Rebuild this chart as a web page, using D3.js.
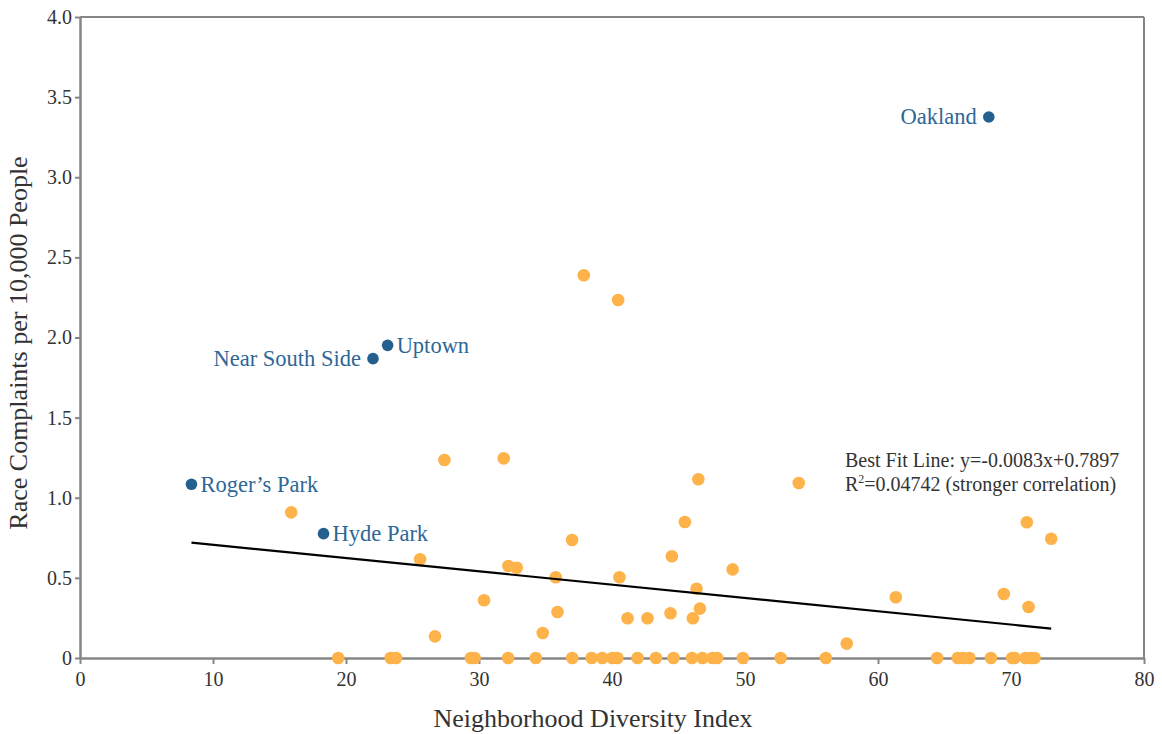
<!DOCTYPE html>
<html>
<head>
<meta charset="utf-8">
<script src="https://cdn.jsdelivr.net/npm/d3@7"></script>
<style>
  body { margin: 0; background: #fff; }
  svg { display: block; }
  text { font-family: "Liberation Serif", "DejaVu Serif", serif; }
</style>
</head>
<body>
<svg id="chart" width="1162" height="734"></svg>
<script>
// ---- Data ----
const xTicks = [0, 10, 20, 30, 40, 50, 60, 70, 80];
const yTicks = [0, 0.5, 1.0, 1.5, 2.0, 2.5, 3.0, 3.5, 4.0];

// Highlighted neighborhoods
const highlightNames = ["Oakland", "Uptown", "Near South Side", "Roger\u2019s Park", "Hyde Park"];
const highlightX = [68.33, 23.13, 22.03, 8.38, 18.31];
const highlightY = [3.376, 1.951, 1.868, 1.084, 0.776];
const highlightSide = ["left", "right", "left", "right", "right"];

// Other neighborhoods with complaints > 0
const otherX = [37.88, 40.46, 27.40, 31.86, 46.49, 54.04, 15.88, 45.48, 71.19, 37.00,
                73.02, 25.57, 44.50, 32.21, 32.84, 49.07, 35.77, 40.56, 46.36, 61.34,
                69.46, 30.38, 46.61, 71.32, 35.90, 44.40, 41.17, 42.67, 46.08, 34.79,
                26.69, 57.65];
const otherY = [2.388, 2.234, 1.236, 1.246, 1.115, 1.092, 0.909, 0.849, 0.847, 0.736,
                0.744, 0.616, 0.635, 0.574, 0.563, 0.553, 0.504, 0.504, 0.432, 0.379,
                0.399, 0.360, 0.308, 0.318, 0.287, 0.279, 0.248, 0.248, 0.248, 0.156,
                0.135, 0.090];

// Neighborhoods with zero complaints
const zeroX = [19.41, 23.36, 23.76, 29.39, 29.67, 32.19, 34.27, 37.01, 38.47, 39.27,
               40.02, 40.40, 41.92, 43.30, 44.63, 46.01, 46.80, 47.56, 47.90, 49.84,
               52.68, 56.08, 64.44, 66.00, 66.41, 66.87, 68.49, 70.09, 70.27, 71.09,
               71.50, 71.77];

// Best fit line
const fitSlope = -0.0083;
const fitIntercept = 0.7897;
const fitLabel1 = "Best Fit Line: y=-0.0083x+0.7897";
const fitLabel2 = "=0.04742 (stronger correlation)";

const xTitle = "Neighborhood Diversity Index";
const yTitle = "Race Complaints per 10,000 People";

// ---- Layout ----
const W = 1162, H = 734;
const margin = { top: 17, right: 18, bottom: 76, left: 80 };
const iw = W - margin.left - margin.right;
const ih = H - margin.top - margin.bottom;

const svg = d3.select("#chart");
const g = svg.append("g").attr("transform", `translate(${margin.left},${margin.top})`);

const x = d3.scaleLinear().domain([0, 80]).range([0, iw]);
const y = d3.scaleLinear().domain([0, 4]).range([ih, 0]);

const axisColor = "#868686";
const orange = "#fdb34a";
const blue = "#235f8f";
const labelBlue = "#2e6796";
const textColor = "#333";

// Frame (top and right)
g.append("line").attr("x1", 0).attr("x2", iw).attr("y1", 0).attr("y2", 0)
  .attr("stroke", axisColor).attr("stroke-width", 2);
g.append("line").attr("x1", iw).attr("x2", iw).attr("y1", 0).attr("y2", ih)
  .attr("stroke", axisColor).attr("stroke-width", 2);

// Axes
const xAxis = g.append("g").attr("transform", `translate(0,${ih})`)
  .call(d3.axisBottom(x).tickValues(xTicks).tickSize(6).tickSizeOuter(0).tickFormat(d3.format("d")));
const yAxis = g.append("g")
  .call(d3.axisLeft(y).tickValues(yTicks).tickSize(5).tickSizeOuter(0)
    .tickFormat(d => d === 0 ? "0" : d3.format(".1f")(d)));

[xAxis, yAxis].forEach(a => {
  a.select(".domain").attr("stroke", axisColor).attr("stroke-width", 2.5);
  a.selectAll(".tick line").attr("stroke", axisColor).attr("stroke-width", 2);
  a.selectAll(".tick text").attr("fill", textColor).style("font-size", "20px")
    .style("font-family", "'Liberation Serif', serif");
});
xAxis.selectAll(".tick text").attr("y", 14);
yAxis.selectAll(".tick text").attr("x", -8);

// Zero points
g.selectAll("circle.zero").data(zeroX).join("circle").attr("class", "zero")
  .attr("cx", d => x(d)).attr("cy", y(0)).attr("r", 6.3).attr("fill", orange);

// Other points
g.selectAll("circle.other").data(otherX.map((d, i) => [d, otherY[i]])).join("circle").attr("class", "other")
  .attr("cx", d => x(d[0])).attr("cy", d => y(d[1])).attr("r", 6.3).attr("fill", orange);

// Best fit line
const allX = highlightX.concat(otherX, zeroX);
const xMin = d3.min(allX), xMax = d3.max(allX);
const line = d3.line().x(d => x(d)).y(d => y(fitSlope * d + fitIntercept));
g.append("path").datum([xMin, xMax]).attr("d", line)
  .attr("stroke", "#000").attr("stroke-width", 2.2).attr("fill", "none");

// Highlighted points
const hl = highlightNames.map((n, i) => ({ name: n, x: highlightX[i], y: highlightY[i], side: highlightSide[i] }));
g.selectAll("circle.hl").data(hl).join("circle").attr("class", "hl")
  .attr("cx", d => x(d.x)).attr("cy", d => y(d.y)).attr("r", 5.8).attr("fill", blue);
g.selectAll("text.hl").data(hl).join("text").attr("class", "hl")
  .attr("x", d => x(d.x) + (d.side === "right" ? 9 : -12))
  .attr("y", d => y(d.y))
  .attr("dy", "0.33em")
  .attr("text-anchor", d => d.side === "right" ? "start" : "end")
  .attr("fill", labelBlue)
  .style("font-size", "22.5px")
  .text(d => d.name);

// Fit annotation
const annX = 845 - margin.left;
const ann = g.append("text").attr("x", annX).attr("y", 467 - margin.top).attr("fill", textColor)
  .style("font-size", "20px");
ann.append("tspan").attr("x", annX).attr("dy", 0).text(fitLabel1);
ann.append("tspan").attr("x", annX).attr("dy", 23.5).text("R");
ann.append("tspan").attr("dy", -8).style("font-size", "12px").text("2");
ann.append("tspan").attr("dy", 8).text(fitLabel2);

// Axis titles
svg.append("text").attr("x", 593).attr("y", 727)
  .attr("text-anchor", "middle").attr("fill", textColor).style("font-size", "26px").text(xTitle);
svg.append("text").attr("transform", `translate(27,343) rotate(-90)`)
  .attr("text-anchor", "middle").attr("fill", textColor).style("font-size", "26px").text(yTitle);
</script>
</body>
</html>
